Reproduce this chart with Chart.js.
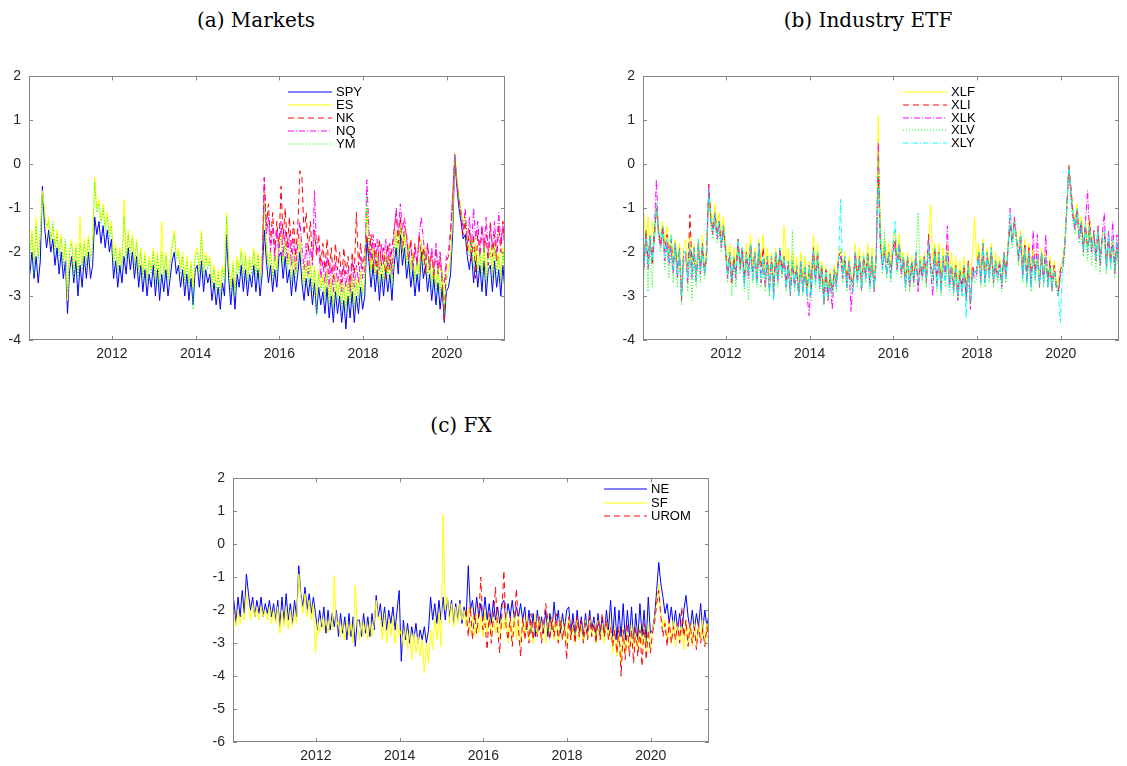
<!DOCTYPE html>
<html>
<head>
<meta charset="utf-8">
<script src="https://cdn.jsdelivr.net/npm/chart.js@4.4.0/dist/chart.umd.min.js"></script>
<style>
  body { margin: 0; background: #fff; }
  #page { position: relative; width: 1127px; height: 766px; overflow: hidden; }
  .title { position: absolute; font-family: "DejaVu Serif", serif; font-size: 20px; line-height: 24px; color: #000; white-space: nowrap; transform: translateX(-50%); }
  canvas { position: absolute; }
  #warn { position: absolute; left: 700px; top: 600px; color: #c00; font: 12px sans-serif; }
</style>
</head>
<body>
<div id="page">
  <div class="title" style="left:256px; top:8px">(a) Markets</div>
  <div class="title" style="left:868px; top:8px">(b) Industry ETF</div>
  <div class="title" style="left:461px; top:413px">(c) FX</div>
  <canvas id="markets" width="520" height="310" style="left:0; top:60px"></canvas>
  <canvas id="industry" width="513" height="310" style="left:614px; top:60px"></canvas>
  <canvas id="fx" width="520" height="304" style="left:204px; top:462px"></canvas>
  <div id="warn"></div>
</div>
<script>
// sample dates (decimal years), one every 0.05 year
const years = [];
for (let i = 0; i < 228; i++) years.push(Math.round((2010.04 + 0.05 * i) * 100) / 100);
const lateStart = 111; // NK, NQ, UROM start mid 2015

const xTicks = [2012, 2014, 2016, 2018, 2020];
const yTicksAB = [-4, -3, -2, -1, 0, 1, 2];
const yTicksC = [-6, -5, -4, -3, -2, -1, 0, 1, 2];

// (a) Markets, one row per year
const spy = [
  -2.5, -2.0, -2.6, -2.1, -2.7, -2.2, -0.5, -1.4, -1.9, -1.5, -2.0, -1.7, -2.3, -1.9, -2.5, -2.0, -2.6, -2.2, -3.4, -2.4,
  -2.1, -2.7, -2.2, -3.0, -2.3, -2.8, -2.1, -2.6, -2.0, -2.6, -2.3, -1.2, -1.6, -1.3, -1.8, -1.4, -1.9, -1.5, -2.0, -1.7,
  -2.6, -2.2, -2.8, -2.3, -2.7, -2.1, -2.5, -1.9, -2.4, -2.0, -2.6, -2.1, -2.8, -2.3, -2.9, -2.4, -3.0, -2.5, -2.8, -2.3,
  -3.0, -2.4, -3.1, -2.5, -2.9, -2.4, -3.0, -2.6, -2.2, -2.0, -2.5, -2.3, -2.8, -2.4, -3.0, -2.5, -3.1, -2.6, -3.2, -2.4,
  -2.3, -2.8, -2.2, -2.9, -2.4, -2.7, -2.5, -3.1, -2.7, -3.2, -2.8, -3.3, -2.7, -3.0, -1.6, -2.6, -3.2, -2.6, -3.3, -2.5,
  -2.8, -2.3, -2.9, -2.4, -3.0, -2.5, -2.8, -2.3, -2.9, -2.4, -3.0, -2.5, -1.5, -2.2, -2.7, -2.3, -2.9, -2.4, -2.8, -2.1,
  -2.0, -2.6, -2.1, -2.7, -2.4, -3.0, -2.4, -2.9, -2.5, -2.0, -2.7, -3.1, -2.6, -3.0, -2.6, -3.2, -2.7, -3.4, -2.8, -3.2,
  -2.9, -3.4, -2.8, -3.5, -3.0, -3.6, -2.9, -3.4, -3.0, -3.6, -3.1, -3.75, -3.0, -3.5, -2.9, -3.6, -3.0, -3.4, -2.8, -3.3,
  -3.0, -1.7, -2.2, -2.8, -2.3, -2.9, -2.4, -3.1, -2.5, -3.0, -2.4, -2.9, -2.5, -3.1, -2.3, -1.9, -2.5, -1.6, -2.3, -1.9,
  -2.6, -2.2, -2.8, -2.4, -3.0, -2.5, -2.9, -2.0, -2.6, -2.3, -2.9, -2.5, -3.1, -2.6, -3.2, -2.7, -3.3, -2.8, -3.6, -2.9,
  -2.8, -2.5, -1.6, 0.15, -0.5, -1.0, -1.3, -1.7, -1.6, -2.1, -2.4, -2.0, -2.7, -2.2, -2.8, -2.3, -2.9, -2.2, -3.0, -2.4,
  -2.3, -2.9, -2.2, -2.8, -2.4, -3.0, -2.3, -2.9
];
const es = [
  -2.0, -1.5, -2.2, -1.2, -2.1, -1.6, -0.6, -1.0, -1.5, -1.2, -1.7, -1.4, -1.9, -1.5, -2.0, -1.6, -2.2, -1.8, -3.1, -1.9,
  -1.7, -2.4, -1.8, -2.5, -1.2, -2.3, -1.7, -2.2, -1.6, -2.1, -1.8, -0.3, -1.0, -0.8, -1.3, -0.9, -1.4, -1.1, -1.6, -1.3,
  -2.2, -1.8, -2.4, -1.9, -2.3, -0.8, -2.1, -1.5, -2.0, -1.6, -2.2, -1.7, -2.4, -1.9, -2.5, -2.0, -2.6, -2.1, -2.4, -1.9,
  -2.6, -2.0, -2.7, -1.3, -2.5, -2.0, -2.6, -2.2, -1.8, -1.5, -2.1, -1.9, -2.4, -2.0, -2.6, -2.1, -2.7, -2.2, -2.8, -2.0,
  -1.9, -2.4, -1.5, -2.5, -2.0, -2.3, -2.1, -2.7, -2.3, -2.8, -2.4, -2.9, -2.3, -2.6, -1.1, -2.2, -2.8, -2.2, -2.9, -2.1,
  -2.4, -1.9, -2.5, -2.0, -2.6, -2.1, -2.4, -1.9, -2.5, -2.0, -2.6, -2.1, -0.6, -1.8, -2.3, -1.9, -2.5, -2.0, -2.4, -1.7,
  -1.6, -2.2, -1.7, -2.3, -2.0, -2.6, -2.0, -2.5, -2.1, -1.6, -2.3, -2.7, -2.2, -2.6, -2.2, -2.8, -2.3, -3.0, -2.4, -2.8,
  -2.5, -3.0, -2.4, -3.1, -2.6, -3.2, -2.5, -3.0, -2.6, -3.2, -2.7, -3.3, -2.6, -3.1, -2.5, -3.2, -2.6, -3.0, -2.4, -2.9,
  -2.6, -1.0, -1.8, -2.4, -1.9, -2.5, -2.0, -2.7, -2.1, -2.6, -2.0, -2.5, -2.1, -2.7, -1.9, -1.5, -2.1, -1.3, -1.9, -1.5,
  -2.2, -1.8, -2.4, -2.0, -2.6, -2.1, -2.5, -1.7, -2.2, -1.9, -2.5, -2.1, -2.7, -2.2, -2.8, -2.3, -2.9, -2.4, -3.3, -2.5,
  -2.4, -2.1, -1.2, 0.25, -0.3, -0.7, -1.0, -1.3, -1.2, -1.7, -2.0, -1.6, -2.3, -1.8, -2.4, -1.9, -2.5, -1.8, -2.6, -2.0,
  -1.9, -2.5, -1.8, -2.4, -2.0, -2.6, -1.9, -2.5
];
const nk = [
  -2.2, -0.3, -1.4, -0.9, -1.8, -1.1, -2.0, -1.3, -1.9,
  -0.5, -1.7, -1.0, -1.9, -1.2, -2.0, -1.3, -2.1, -1.4, -0.15, -0.3, -1.6, -1.1, -2.0, -1.3, -2.2, -1.5, -2.1, -1.6, -2.3,
  -1.8, -2.4, -1.7, -2.5, -1.9, -2.6, -1.8, -2.4, -2.0, -2.7, -1.9, -2.5, -2.1, -2.8, -2.0, -2.5, -1.1, -2.3, -1.8, -2.4,
  -2.0, -1.6, -2.2, -1.6, -2.4, -1.8, -2.5, -1.7, -2.3, -1.9, -2.6, -1.8, -2.4, -1.9, -1.5, -1.1, -1.8, -1.2, -2.0, -1.4,
  -1.6, -2.2, -1.7, -2.4, -1.8, -2.3, -1.6, -2.2, -1.9, -2.5, -1.8, -2.4, -2.0, -2.6, -1.9, -2.5, -2.1, -2.7, -3.6, -2.2,
  -2.1, -1.6, -0.8, 0.2, -0.5, -0.9, -1.2, -1.6, -1.3, -2.0, -1.5, -2.2, -1.6, -2.6, -1.5, -2.1, -1.4, -2.0, -1.6, -2.3,
  -1.3, -2.1, -1.6, -2.2, -1.4, -2.0, -1.3, -1.9
];
const nq = [
  -2.4, -0.3, -1.6, -1.2, -2.0, -1.4, -2.2, -1.5, -2.1,
  -1.3, -2.1, -1.5, -2.2, -1.6, -2.3, -1.7, -2.4, -1.8, -1.3, -1.9, -2.4, -1.8, -2.5, -1.9, -2.3, -0.6, -2.0, -1.9, -2.6,
  -2.2, -2.7, -2.1, -2.8, -2.3, -2.9, -2.2, -2.7, -2.4, -2.9, -2.3, -2.8, -2.4, -2.9, -2.2, -2.8, -2.3, -2.7, -2.1, -2.6,
  -2.4, -0.35, -1.5, -2.2, -1.6, -2.3, -1.7, -2.4, -1.8, -2.3, -1.7, -2.4, -1.8, -2.5, -1.6, -1.0, -1.6, -0.9, -1.5, -1.2,
  -1.7, -2.2, -1.8, -2.4, -1.9, -2.3, -1.6, -1.2, -1.7, -2.2, -1.8, -2.4, -1.9, -2.5, -1.8, -2.4, -2.0, -2.6, -2.7, -2.1,
  -2.0, -1.5, -0.7, 0.25, -0.4, -0.8, -1.1, -1.5, -1.0, -1.8, -1.2, -1.9, -1.0, -1.7, -1.3, -2.0, -1.4, -1.9, -1.2, -2.0,
  -1.4, -1.9, -1.3, -2.0, -1.1, -1.8, -1.4, -2.0
];
const ym = [
  -2.3, -1.6, -2.5, -1.4, -2.2, -1.5, -0.7, -1.2, -1.4, -1.3, -1.8, -1.3, -2.0, -1.6, -2.1, -1.7, -2.3, -1.7, -2.9, -2.0,
  -1.8, -2.6, -1.9, -2.6, -1.8, -2.4, -1.8, -2.3, -1.7, -2.2, -1.9, -0.4, -1.1, -0.9, -1.4, -1.0, -1.5, -1.2, -1.7, -1.4,
  -2.3, -1.9, -2.5, -2.0, -2.4, -1.2, -2.2, -1.6, -2.1, -1.7, -2.3, -1.8, -2.5, -2.0, -2.6, -2.1, -2.7, -2.2, -2.5, -2.0,
  -2.7, -2.1, -2.8, -2.0, -2.6, -2.1, -2.7, -2.3, -1.9, -1.6, -2.2, -2.0, -2.5, -2.1, -2.7, -2.2, -2.8, -2.3, -3.3, -2.1,
  -2.0, -2.5, -1.6, -2.6, -2.1, -2.4, -2.2, -2.8, -2.4, -2.9, -2.5, -3.0, -2.4, -2.7, -1.2, -2.3, -2.9, -2.3, -3.0, -2.2,
  -2.5, -2.0, -2.6, -2.1, -2.7, -2.2, -2.5, -2.0, -2.6, -2.1, -2.7, -2.2, -0.9, -1.9, -2.4, -2.0, -2.6, -2.1, -2.5, -1.8,
  -1.7, -2.3, -1.8, -2.4, -2.1, -2.7, -2.1, -2.6, -2.2, -1.8, -2.4, -2.8, -2.3, -2.7, -2.3, -2.9, -2.4, -3.45, -2.5, -2.9,
  -2.6, -3.1, -2.5, -3.2, -2.7, -3.3, -2.6, -3.1, -2.7, -3.3, -2.8, -3.4, -2.7, -3.2, -2.6, -3.3, -2.7, -3.1, -2.5, -3.0,
  -2.7, -0.7, -1.9, -2.5, -2.0, -2.6, -2.1, -2.8, -2.2, -2.7, -2.1, -2.6, -2.2, -2.8, -2.0, -1.6, -2.2, -1.4, -2.0, -1.6,
  -2.3, -1.9, -2.5, -2.1, -2.7, -2.2, -2.6, -1.8, -2.3, -2.0, -2.6, -2.2, -2.8, -2.3, -2.9, -2.4, -3.0, -2.5, -3.4, -2.6,
  -2.5, -2.2, -1.3, 0.2, -0.4, -0.8, -1.1, -1.4, -1.3, -1.8, -2.1, -1.7, -2.4, -1.9, -2.5, -2.0, -2.6, -1.9, -2.7, -2.1,
  -2.0, -2.6, -1.9, -2.5, -2.1, -2.7, -2.0, -2.6
];

// (b) Industry ETF
const xlf = [
  -1.1, -1.9, -1.2, -2.0, -1.3, -1.8, -0.9, -1.4, -1.6, -1.3, -1.8, -1.4, -2.0, -1.6, -2.1, -1.7, -2.2, -1.8, -2.8, -1.9,
  -1.7, -2.3, -1.6, -2.4, -1.8, -2.5, -1.7, -2.3, -1.6, -2.4, -1.8, -0.65, -1.0, -1.4, -0.9, -1.5, -1.1, -1.6, -1.2, -1.7,
  -2.2, -1.8, -2.4, -1.9, -2.3, -1.7, -2.4, -1.9, -2.5, -1.8, -2.2, -1.6, -2.4, -1.9, -2.5, -1.7, -2.3, -1.6, -2.4, -1.9,
  -2.5, -2.0, -2.6, -1.9, -2.4, -2.0, -2.5, -1.4, -2.2, -1.9, -2.6, -2.0, -2.5, -2.1, -2.7, -2.0, -2.6, -2.1, -2.8, -2.2,
  -2.6, -1.6, -2.4, -1.8, -2.5, -2.2, -2.8, -2.3, -2.9, -2.4, -2.8, -2.3, -2.6, -2.0, -1.9, -2.4, -2.0, -2.6, -2.1, -2.5,
  -2.7, -1.8, -2.5, -1.9, -2.6, -2.0, -2.4, -1.8, -2.5, -1.9, -2.6, -2.0, 1.1, -1.6, -2.1, -1.7, -2.2, -1.8, -2.3, -1.7,
  -1.5, -2.1, -1.6, -2.2, -2.0, -2.5, -2.0, -2.6, -2.1, -2.5, -2.0, -2.6, -2.1, -2.4, -2.0, -2.5, -1.9, -0.9, -2.2, -1.8,
  -2.3, -1.8, -2.5, -1.9, -2.4, -1.8, -2.5, -2.0, -2.6, -2.1, -2.7, -2.2, -2.6, -2.1, -2.7, -2.2, -2.6, -2.1, -1.2, -2.2,
  -1.8, -2.4, -1.7, -2.5, -1.9, -2.4, -1.8, -2.5, -2.0, -2.4, -2.1, -2.6, -2.0, -2.4, -1.8, -1.3, -1.7, -1.2, -1.6, -1.9,
  -1.5, -2.3, -1.7, -2.4, -1.8, -2.5, -1.9, -2.4, -2.0, -2.6, -1.9, -2.5, -2.0, -2.6, -2.1, -2.7, -2.2, -2.6, -2.8, -2.3,
  -2.2, -1.8, -0.9, -0.05, -0.6, -1.0, -1.3, -0.9, -1.5, -1.2, -1.8, -1.3, -1.9, -1.2, -1.8, -1.5, -2.0, -1.4, -2.1, -1.6,
  -1.5, -2.2, -1.6, -2.1, -1.7, -2.3, -1.8, -2.2
];
const xli = [
  -2.4, -1.5, -2.2, -1.6, -2.3, -1.7, -1.0, -1.5, -1.8, -1.4, -2.0, -1.6, -2.1, -1.7, -2.3, -1.8, -2.4, -1.9, -3.1, -2.0,
  -2.0, -2.5, -1.15, -2.3, -1.9, -2.7, -1.9, -2.4, -1.8, -2.5, -2.0, -0.45, -1.2, -1.5, -1.1, -1.6, -1.3, -1.8, -1.4, -1.9,
  -2.5, -2.0, -2.7, -2.1, -2.5, -1.7, -2.3, -1.9, -2.6, -2.0, -2.4, -1.8, -2.5, -2.0, -2.6, -1.8, -2.5, -1.9, -2.6, -2.1,
  -2.8, -2.1, -2.8, -2.0, -2.6, -1.9, -2.4, -2.1, -2.7, -2.2, -2.9, -2.2, -2.7, -2.3, -2.9, -2.2, -2.8, -2.3, -2.9, -2.3,
  -2.9, -1.9, -2.6, -2.0, -2.7, -2.3, -3.1, -2.4, -3.0, -2.5, -2.9, -2.4, -2.7, -2.1, -2.0, -2.5, -2.1, -2.7, -2.2, -2.6,
  -2.8, -2.0, -2.6, -2.1, -2.7, -2.1, -2.5, -2.0, -2.7, -2.1, -2.8, -2.1, -0.3, -1.8, -2.3, -1.9, -2.4, -2.0, -2.5, -1.9,
  -1.7, -2.3, -1.8, -2.4, -2.1, -2.7, -2.1, -2.7, -2.2, -2.6, -2.0, -2.8, -2.2, -2.5, -2.1, -2.6, -1.6, -2.3, -2.5, -1.9,
  -2.6, -2.0, -2.8, -2.1, -2.6, -2.0, -2.7, -2.3, -2.8, -2.3, -3.0, -2.4, -2.8, -2.3, -3.0, -2.2, -3.2, -2.3, -2.5, -2.4,
  -2.0, -2.6, -1.8, -2.6, -2.0, -2.5, -1.9, -2.6, -2.2, -2.5, -2.2, -2.7, -2.0, -2.5, -1.9, -1.4, -1.8, -1.3, -1.7, -2.1,
  -1.6, -2.5, -1.8, -2.6, -1.9, -2.7, -2.1, -2.5, -2.1, -2.7, -2.0, -2.6, -2.1, -2.7, -2.2, -2.8, -2.3, -2.7, -2.9, -2.4,
  -2.3, -1.9, -1.0, 0.0, -0.5, -1.1, -1.4, -1.0, -1.6, -1.3, -1.9, -1.4, -2.0, -1.3, -1.9, -1.6, -2.1, -1.5, -2.2, -1.7,
  -1.6, -2.3, -1.7, -2.2, -1.8, -2.4, -1.9, -2.3
];
const xlk = [
  -2.3, -1.6, -2.4, -1.8, -2.1, -1.5, -0.35, -1.6, -1.9, -1.5, -2.2, -1.8, -2.3, -1.9, -2.5, -1.8, -2.6, -2.0, -3.0, -2.1,
  -2.1, -2.7, -1.9, -2.6, -2.0, -2.6, -1.8, -2.5, -1.9, -2.5, -2.1, -0.5, -1.3, -1.6, -1.2, -1.7, -1.4, -1.9, -1.5, -2.0,
  -2.6, -2.1, -2.7, -2.2, -2.6, -1.8, -2.4, -2.0, -2.7, -2.1, -2.6, -1.9, -2.6, -2.1, -2.7, -1.9, -2.7, -2.2, -2.8, -2.2,
  -2.9, -2.2, -3.0, -2.1, -2.7, -2.0, -2.5, -2.2, -2.8, -2.3, -3.0, -2.3, -2.8, -2.4, -3.0, -2.3, -2.9, -2.4, -3.0, -3.45,
  -2.4, -2.0, -2.7, -2.1, -2.8, -2.4, -3.2, -2.5, -3.1, -2.6, -3.3, -2.5, -2.8, -2.2, -2.1, -2.6, -2.2, -2.8, -2.3, -3.35,
  -2.6, -2.1, -2.7, -2.2, -2.9, -2.2, -2.6, -2.1, -2.8, -2.2, -2.9, -2.2, 0.5, -1.9, -2.4, -2.0, -2.5, -2.1, -2.6, -2.0,
  -1.8, -2.4, -1.9, -2.5, -2.2, -2.8, -2.2, -2.8, -2.3, -2.7, -2.1, -2.9, -2.3, -2.6, -2.2, -2.7, -1.7, -2.4, -3.0, -2.0,
  -2.8, -2.1, -2.9, -2.2, -2.5, -1.4, -2.8, -2.4, -2.9, -2.4, -3.1, -2.5, -2.9, -2.4, -3.1, -2.3, -3.3, -2.4, -2.6, -2.5,
  -2.1, -2.7, -1.9, -2.7, -2.1, -2.6, -2.0, -2.7, -2.3, -2.6, -2.3, -2.8, -2.1, -2.6, -1.9, -1.0, -1.8, -1.2, -1.7, -2.2,
  -1.7, -2.6, -1.9, -2.7, -2.0, -2.8, -1.5, -2.6, -1.6, -2.8, -2.1, -2.7, -1.6, -2.8, -2.3, -2.9, -2.4, -2.8, -3.0, -2.5,
  -2.4, -2.0, -1.1, -0.1, -0.7, -1.2, -1.5, -1.1, -1.7, -1.4, -2.0, -1.3, -0.6, -1.7, -2.0, -1.5, -2.2, -1.4, -2.3, -1.6,
  -1.1, -2.4, -1.5, -2.3, -1.3, -2.5, -1.6, -2.4
];
const xlv = [
  -2.6, -1.5, -2.9, -1.7, -2.8, -1.8, -1.0, -1.7, -2.0, -1.6, -2.4, -1.9, -2.6, -2.0, -2.7, -1.9, -2.8, -2.1, -3.2, -2.2,
  -2.2, -2.9, -2.0, -3.1, -2.1, -2.8, -1.9, -2.7, -2.0, -2.6, -2.2, -0.7, -1.4, -1.7, -1.3, -1.8, -1.5, -2.0, -1.6, -2.1,
  -2.7, -2.2, -3.0, -2.3, -2.8, -1.9, -2.5, -2.1, -2.9, -2.2, -3.1, -2.0, -2.7, -2.2, -2.8, -2.0, -2.8, -2.3, -2.9, -2.3,
  -3.0, -2.3, -3.0, -2.2, -2.8, -2.1, -2.6, -2.3, -2.9, -2.4, -3.0, -1.5, -2.9, -2.5, -3.0, -2.4, -3.0, -2.5, -3.1, -2.4,
  -3.1, -2.1, -2.8, -2.2, -2.9, -2.5, -3.2, -2.6, -3.1, -2.6, -3.0, -2.5, -2.9, -2.3, -2.2, -2.7, -2.3, -2.9, -2.4, -2.8,
  -2.9, -2.2, -2.8, -2.3, -2.9, -2.3, -2.7, -2.2, -2.9, -2.3, -2.9, -2.3, 0.2, -1.3, -2.5, -1.5, -2.6, -2.2, -2.7, -2.1,
  -1.9, -2.5, -2.0, -2.6, -2.3, -2.9, -2.3, -2.9, -2.4, -2.8, -2.2, -1.1, -2.4, -2.7, -2.3, -2.8, -2.0, -2.5, -2.7, -2.1,
  -2.9, -2.2, -3.0, -2.3, -2.8, -2.2, -2.9, -2.5, -3.0, -2.5, -3.1, -2.6, -3.0, -2.5, -3.1, -2.4, -3.2, -2.5, -2.7, -2.6,
  -2.2, -2.8, -2.0, -2.8, -2.2, -2.7, -2.1, -2.8, -2.4, -2.7, -2.4, -2.9, -2.2, -2.7, -2.0, -1.4, -1.9, -1.5, -1.8, -2.3,
  -1.8, -2.7, -2.0, -2.8, -2.1, -2.9, -2.2, -2.7, -2.2, -2.8, -2.1, -2.8, -2.2, -2.8, -2.4, -2.9, -2.5, -2.8, -3.0, -2.6,
  -2.5, -2.1, -1.2, -0.1, -0.9, -1.3, -1.6, -1.2, -1.8, -1.5, -2.1, -1.6, -2.2, -1.5, -2.3, -1.8, -2.4, -1.7, -2.5, -1.8,
  -1.7, -2.5, -1.8, -2.4, -1.9, -2.6, -2.0, -2.5
];
const xly = [
  -2.2, -1.7, -2.3, -1.6, -2.2, -1.6, -0.9, -1.5, -1.7, -1.4, -2.1, -1.7, -2.2, -1.6, -2.4, -1.8, -2.5, -1.9, -3.0, -2.0,
  -2.0, -2.6, -1.8, -2.5, -1.9, -2.7, -1.7, -2.4, -1.8, -2.5, -2.0, -0.6, -1.2, -1.5, -1.1, -1.6, -1.3, -1.8, -1.4, -1.9,
  -2.5, -2.0, -2.6, -2.1, -2.5, -1.7, -2.3, -1.9, -2.8, -2.0, -2.5, -1.8, -2.6, -2.0, -2.7, -1.8, -2.6, -2.1, -2.6, -2.1,
  -2.9, -2.1, -3.1, -2.0, -2.6, -1.9, -2.5, -2.1, -2.8, -2.2, -2.9, -2.2, -2.8, -2.3, -3.0, -2.2, -2.9, -2.3, -3.0, -2.3,
  -3.0, -1.9, -2.7, -2.0, -2.8, -2.3, -3.1, -2.4, -3.0, -2.5, -2.9, -2.4, -2.8, -2.2, -0.8, -2.5, -2.1, -2.8, -2.2, -2.7,
  -2.9, -2.0, -2.7, -2.1, -2.8, -2.1, -2.6, -2.0, -2.8, -2.1, -2.8, -2.1, -0.5, -1.7, -2.4, -1.8, -2.5, -2.0, -2.6, -1.9,
  -1.3, -2.3, -1.8, -2.4, -2.1, -2.8, -2.1, -2.7, -2.2, -2.6, -2.0, -2.7, -2.2, -2.5, -2.1, -2.6, -1.8, -2.4, -2.6, -1.9,
  -2.8, -2.0, -2.9, -2.1, -2.7, -2.0, -2.8, -2.3, -2.9, -2.3, -3.0, -2.4, -3.0, -2.3, -3.5, -2.3, -3.1, -2.4, -2.5, -2.4,
  -2.0, -2.7, -1.8, -2.7, -2.0, -2.6, -1.9, -2.6, -2.2, -2.6, -2.2, -2.7, -2.0, -2.6, -1.9, -1.1, -1.8, -1.3, -1.7, -2.1,
  -1.6, -2.6, -1.9, -2.7, -2.0, -2.8, -2.1, -2.6, -2.1, -2.7, -2.0, -2.7, -2.1, -2.8, -2.3, -2.8, -2.4, -2.7, -2.9, -3.6,
  -2.3, -1.9, -1.0, -0.05, -0.6, -1.1, -1.4, -1.0, -1.6, -1.3, -1.9, -1.4, -2.0, -1.4, -1.9, -1.6, -2.1, -1.5, -2.2, -1.7,
  -1.5, -2.4, -1.6, -2.3, -1.7, -2.4, -1.8, -2.4
];

// (c) FX
const ne = [
  -1.7, -2.4, -1.6, -2.2, -1.4, -2.1, -0.9, -1.5, -2.0, -1.6, -2.2, -1.7, -2.1, -1.6, -2.2, -1.8, -2.1, -1.7, -2.2, -1.8,
  -2.3, -1.7, -2.5, -1.6, -2.4, -1.5, -2.3, -1.8, -2.4, -1.7, -2.2, -0.65, -1.5, -1.9, -1.3, -2.0, -1.5, -2.1, -1.6, -2.1,
  -2.6, -2.0, -2.5, -1.9, -2.7, -2.0, -2.6, -2.1, -2.5, -2.0, -2.8, -2.1, -2.7, -2.2, -2.9, -2.1, -2.8, -2.2, -3.1, -2.3,
  -2.3, -2.8, -2.1, -2.7, -2.2, -2.8, -2.1, -2.6, -1.55, -2.2, -1.8, -2.5, -1.9, -2.6, -2.0, -2.4, -1.9, -2.6, -2.0, -1.4,
  -3.55, -2.3, -2.9, -2.4, -3.0, -2.5, -2.9, -2.4, -3.0, -2.6, -2.9, -2.5, -3.0, -2.6, -1.6, -2.3, -1.8, -2.4, -1.7, -2.3,
  -1.6, -2.3, -1.6, -2.2, -1.7, -2.4, -1.8, -2.3, -1.7, -2.4, -1.9, -2.2, -0.65, -2.0, -1.7, -2.3, -1.6, -2.2, -1.8, -2.3,
  -1.6, -2.3, -1.8, -2.4, -1.7, -2.3, -1.9, -2.4, -1.8, -1.7, -2.3, -1.8, -2.2, -1.7, -2.3, -1.9, -2.2, -1.8, -2.3, -1.9,
  -2.6, -2.0, -2.7, -2.1, -2.8, -2.0, -2.6, -2.2, -2.7, -2.0, -2.8, -2.1, -2.6, -1.75, -2.5, -2.0, -2.7, -2.1, -2.6, -2.0,
  -1.9, -2.7, -2.1, -2.8, -2.0, -2.7, -2.2, -2.8, -2.1, -2.7, -2.0, -2.6, -2.2, -2.8, -2.1, -2.7, -2.2, -2.8, -2.0, -2.6,
  -1.7, -2.8, -1.9, -2.9, -2.0, -2.8, -1.8, -2.9, -2.0, -2.8, -1.9, -3.0, -2.1, -2.9, -1.8, -2.8, -2.0, -3.0, -1.6, -2.7,
  -2.6, -2.2, -1.4, -0.55, -1.2, -1.6, -2.1, -1.8, -2.4, -1.9, -2.5, -2.0, -2.6, -2.1, -2.7, -2.0, -1.55, -2.2, -2.6, -2.0,
  -2.6, -2.1, -2.5, -1.8, -2.6, -2.0, -2.5, -2.1
];
const sf = [
  -2.1, -2.5, -2.0, -2.4, -2.1, -2.3, -1.5, -2.0, -2.3, -1.8, -2.2, -1.9, -2.3, -1.9, -2.2, -2.0, -2.3, -1.9, -2.4, -2.0,
  -2.4, -1.9, -2.7, -2.0, -2.5, -1.9, -2.6, -2.0, -2.5, -2.1, -2.4, -0.9, -1.6, -2.1, -1.5, -2.2, -1.7, -2.3, -1.8, -3.3,
  -2.3, -2.7, -2.2, -2.6, -2.3, -2.7, -2.2, -2.6, -0.95, -2.5, -2.3, -2.8, -2.4, -2.9, -2.3, -2.8, -2.4, -3.0, -1.25, -2.5,
  -2.9, -2.3, -2.8, -2.4, -2.9, -2.3, -2.8, -2.4, -1.7, -2.3, -2.2, -2.9, -2.1, -3.0, -2.3, -2.8, -2.2, -3.0, -2.4, -2.8,
  -2.6, -3.1, -2.5, -3.2, -2.6, -3.5, -2.7, -3.3, -2.8, -3.4, -2.9, -3.9, -3.0, -3.6, -2.6, -3.2, -2.2, -2.9, -2.1, -3.1,
  0.9, -2.0, -1.6, -2.4, -1.8, -2.5, -1.9, -2.4, -1.8, -2.3, -2.0, -2.5, -1.9, -2.7, -2.2, -2.8, -2.1, -2.7, -2.2, -2.8,
  -2.0, -2.7, -2.1, -2.8, -2.2, -2.7, -2.1, -2.9, -2.2, -2.6, -2.0, -3.0, -2.3, -2.8, -2.1, -2.9, -2.2, -3.0, -2.3, -2.8,
  -2.2, -2.9, -2.3, -3.0, -2.1, -2.8, -2.2, -2.9, -2.3, -3.0, -2.1, -2.8, -2.2, -2.9, -2.3, -3.0, -2.2, -2.9, -2.3, -3.0,
  -2.2, -2.9, -2.4, -3.0, -2.3, -2.9, -2.4, -3.0, -2.3, -2.9, -2.2, -2.8, -2.4, -3.0, -2.3, -2.9, -2.4, -3.0, -2.3, -2.9,
  -2.4, -3.3, -2.5, -3.4, -2.6, -3.6, -2.5, -3.3, -2.6, -3.2, -2.4, -3.1, -2.5, -3.2, -2.4, -3.1, -2.5, -3.3, -2.4, -3.2,
  -2.6, -2.3, -1.8, -1.2, -2.1, -2.5, -2.3, -2.9, -2.4, -3.0, -2.3, -3.1, -2.4, -3.0, -2.5, -3.2, -2.3, -3.0, -2.4, -3.1,
  -2.4, -3.0, -2.5, -2.9, -2.3, -3.0, -2.4, -2.9
];
const urom = [
  -2.0, -2.8, -1.9, -2.9, -2.1, -2.7, -2.2, -1.0, -2.6,
  -2.4, -3.2, -2.1, -3.0, -2.2, -1.3, -2.6, -3.3, -2.1, -0.8, -2.5, -2.9, -2.2, -3.1, -2.3, -1.35, -2.6, -3.4, -2.2, -2.9,
  -2.3, -3.0, -2.1, -2.9, -2.3, -2.8, -2.2, -3.0, -2.4, -1.8, -2.3, -2.9, -2.2, -2.8, -2.1, -3.0, -2.3, -2.9, -2.4, -3.5,
  -2.2, -2.9, -2.3, -3.0, -2.2, -2.8, -2.3, -3.0, -2.4, -2.9, -2.2, -2.8, -2.4, -3.0, -2.3, -2.9, -2.1, -2.8, -2.3, -2.9,
  -2.5, -3.1, -2.6, -3.3, -2.5, -4.0, -2.6, -3.5, -2.4, -3.4, -2.6, -3.6, -2.5, -3.4, -2.6, -3.7, -2.4, -3.5, -2.6, -3.3,
  -2.7, -2.4, -1.8, -1.4, -2.2, -2.8, -2.4, -3.1, -2.3, -3.0, -2.5, -2.9, -2.4, -3.0, -1.9, -2.8, -2.3, -3.1, -2.4, -3.0,
  -2.5, -3.2, -2.4, -3.0, -2.6, -3.1, -2.5, -3.0
];

Chart.defaults.font.family = '"Liberation Sans", Arial, sans-serif';

function points(values, start) {
  if (start + values.length !== years.length) {
    document.getElementById("warn").textContent += " len " + values.length + "@" + start;
  }
  return values.map((v, i) => ({ x: years[start + i], y: v }));
}

function series(label, values, start, color, dash) {
  return {
    label: label,
    data: points(values, start),
    borderColor: color,
    borderWidth: 1,
    borderDash: dash,
    pointRadius: 0,
    tension: 0,
    fill: false,
    spanGaps: false,
  };
}

// box with inward ticks, plus a legend inside the axes
const boxPlugin = {
  id: "matlabBox",
  afterDatasetsDraw(chart, args, opts) {
    const ctx = chart.ctx;
    const a = chart.chartArea;
    const sx = chart.scales.x;
    const sy = chart.scales.y;
    ctx.save();
    ctx.strokeStyle = "#858585";
    ctx.lineWidth = 1;
    ctx.setLineDash([]);
    ctx.strokeRect(Math.round(a.left) + 0.5, Math.round(a.top) + 0.5, Math.round(a.right - a.left) - 1, Math.round(a.bottom - a.top) - 1);
    ctx.beginPath();
    sx.ticks.forEach((t) => {
      const px = Math.round(sx.getPixelForValue(t.value)) + 0.5;
      ctx.moveTo(px, a.bottom);
      ctx.lineTo(px, a.bottom - 4);
      ctx.moveTo(px, a.top);
      ctx.lineTo(px, a.top + 4);
    });
    sy.ticks.forEach((t) => {
      const py = Math.round(sy.getPixelForValue(t.value)) + 0.5;
      ctx.moveTo(a.left, py);
      ctx.lineTo(a.left + 4, py);
      ctx.moveTo(a.right, py);
      ctx.lineTo(a.right - 4, py);
    });
    ctx.stroke();

    // legend: thin pale sample lines, text to the right
    ctx.font = '13px "Liberation Sans", Arial, sans-serif';
    ctx.textBaseline = "middle";
    chart.data.datasets.forEach((ds, i) => {
      const y = Math.round(opts.y + i * opts.dy);
      ctx.lineWidth = 1;
      ctx.strokeStyle = ds.borderColor;
      ctx.setLineDash(ds.borderDash || []);
      ctx.beginPath();
      ctx.moveTo(opts.x, y);
      ctx.lineTo(opts.x + opts.len, y);
      ctx.stroke();
      ctx.fillStyle = "#000";
      ctx.fillText(ds.label, opts.x + opts.len + 4, y + 0.5);
    });
    ctx.restore();
  },
};

function makeChart(id, datasets, yTicks, legend, padRight, xAxisHeight) {
  const n = datasets.length;
  // later series are drawn on top, like the original
  datasets.forEach((ds, i) => { ds.order = n - 1 - i; });

  return new Chart(document.getElementById(id), {
    type: "line",
    data: { datasets: datasets },
    plugins: [boxPlugin],
    options: {
      responsive: false,
      animation: false,
      devicePixelRatio: 1,
      events: [],
      layout: { padding: { top: 14, right: padRight, left: 0, bottom: 0 } },
      plugins: {
        legend: { display: false },
        tooltip: { enabled: false },
        matlabBox: legend,
      },
      scales: {
        x: {
          type: "linear",
          min: 2010.02,
          max: 2021.39,
          afterBuildTicks: (s) => { s.ticks = xTicks.map((v) => ({ value: v })); },
          afterFit: (s) => { s.height = xAxisHeight; },
          grid: { display: false, drawTicks: false },
          border: { display: false },
          ticks: { callback: (v) => String(v), color: "#262626", font: { size: 14 }, padding: 6, maxRotation: 0, autoSkip: false },
        },
        y: {
          min: yTicks[0],
          max: yTicks[yTicks.length - 1],
          afterBuildTicks: (s) => { s.ticks = yTicks.map((v) => ({ value: v })); },
          afterFit: (s) => { s.width = 29; },
          grid: { display: false, drawTicks: false },
          border: { display: false },
          ticks: { callback: (v) => String(v), color: "#262626", font: { size: 14 }, padding: 8 },
        },
      },
    },
  });
}

makeChart("markets", [
  series("SPY", spy, 0, "#0000ff", []),
  series("ES", es, 0, "#ffff00", []),
  series("NK", nk, lateStart, "#ff0000", [6, 4]),
  series("NQ", nq, lateStart, "#ff00ff", [6, 2, 1, 2]),
  series("YM", ym, 0, "#00ff00", [1, 2]),
], yTicksAB, { x: 288, y: 31.7, dy: 13.1, len: 44 }, 15, 30);

makeChart("industry", [
  series("XLF", xlf, 0, "#ffff00", []),
  series("XLI", xli, 0, "#ff0000", [6, 4]),
  series("XLK", xlk, 0, "#ff00ff", [6, 2, 1, 2]),
  series("XLV", xlv, 0, "#00ff00", [1, 2]),
  series("XLY", xly, 0, "#00ffff", [5, 2, 1, 2]),
], yTicksAB, { x: 289, y: 32, dy: 12.8, len: 44 }, 8, 30);

makeChart("fx", [
  series("NE", ne, 0, "#0000ff", []),
  series("SF", sf, 0, "#ffff00", []),
  series("UROM", urom, lateStart, "#ff0000", [6, 4]),
], yTicksC, { x: 400, y: 27, dy: 13.5, len: 43 }, 15, 24);
</script>
</body>
</html>
